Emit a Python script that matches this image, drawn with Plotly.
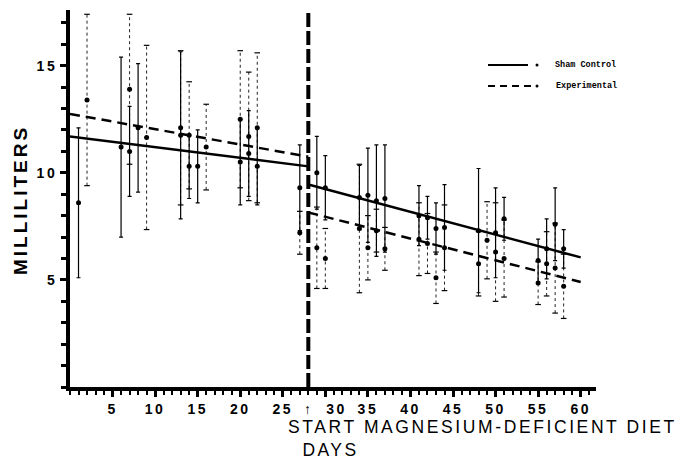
import plotly.graph_objects as go

# ---------------- data ----------------
sham_days = [1, 6, 7, 8, 13, 14, 15, 20, 21, 22, 27, 29, 30, 34, 35, 36, 37,
             41, 42, 43, 44, 48, 50, 51, 55, 56, 57, 58]
sham_mean = [8.6, 11.2, 11.0, 12.1, 11.75, 10.3, 10.3, 10.5, 10.9, 10.3, 9.3,
             10.0, 9.3, 8.85, 8.95, 8.7, 8.8, 8.0, 7.9, 7.4, 7.45, 7.3, 7.2,
             7.85, 5.9, 6.45, 7.6, 6.45]
sham_err = [3.5, 4.2, 2.1, 3.0, 3.9, 1.5, 1.7, 2.0, 2.0, 1.8, 2.0, 1.7, 1.5,
            1.5, 2.2, 2.6, 2.5, 1.4, 1.0, 1.2, 2.0, 2.9, 2.1, 1.0, 1.0, 1.4,
            1.7, 0.9]

exp_days = [2, 7, 9, 13, 14, 16, 20, 21, 22, 27, 29, 30, 34, 35, 36, 37, 41,
            42, 43, 44, 48, 49, 50, 51, 55, 56, 57, 58]
exp_mean = [13.4, 13.9, 11.65, 12.1, 11.75, 11.2, 12.5, 11.7, 12.1, 7.2, 6.5,
            6.0, 7.4, 6.5, 7.3, 6.45, 6.9, 6.7, 5.1, 6.5, 5.75, 6.85, 6.3, 6.0,
            4.85, 5.75, 5.55, 4.7]
exp_err = [4.0, 3.5, 4.3, 3.6, 2.5, 2.0, 3.2, 3.0, 3.5, 1.0, 1.9, 1.4, 3.0,
           1.5, 1.0, 1.0, 1.7, 1.4, 1.2, 2.0, 1.5, 1.8, 2.3, 1.8, 1.0, 1.5,
           2.1, 1.5]

fit_days_pre = [0, 28]
sham_fit_pre = [11.7, 10.3]
exp_fit_pre = [12.75, 10.75]
fit_days_post = [28, 60]
sham_fit_post = [9.45, 6.05]
exp_fit_post = [8.15, 4.9]

diet_start_day = 28

x_tick_vals = [5, 10, 15, 20, 25, 30, 35, 40, 45, 50, 55, 60]
x_tick_text = ["5", "10", "15", "20", "25", "\u2191&nbsp;&nbsp;30", "35", "40",
               "45", "50", "55", "60"]
y_tick_vals = [5, 10, 15]
y_tick_text = ["5", "10", "15"]

legend_names = ["Sham Control", "Experimental"]
x_title_line1 = "START MAGNESIUM-DEFICIENT DIET"
x_title_line2 = "DAYS"
y_title = "MILLILITERS"

# ---------------- figure ----------------
fig = go.Figure()

# experimental error bars (dotted) built from the data
ex_x, ex_y, cap_x, cap_y = [], [], [], []
for d, m, e in zip(exp_days, exp_mean, exp_err):
    ex_x += [d, d, None]
    ex_y += [m - e, m + e, None]
    cap_x += [d, d]
    cap_y += [m - e, m + e]
fig.add_trace(go.Scatter(x=ex_x, y=ex_y, mode="lines",
                         line=dict(color="#222222", width=1.0, dash="3px,3px"),
                         hoverinfo="skip", showlegend=False))
fig.add_trace(go.Scatter(x=cap_x, y=cap_y, mode="markers",
                         marker=dict(symbol="line-ew", size=4,
                                     line=dict(color="black", width=1.2)),
                         hoverinfo="skip", showlegend=False))

# sham control means with solid error bars
fig.add_trace(go.Scatter(x=sham_days, y=sham_mean, mode="markers",
                         name=legend_names[0],
                         marker=dict(color="black", size=5),
                         error_y=dict(type="data", array=sham_err, visible=True,
                                      color="black", thickness=1.2, width=2),
                         showlegend=False))
# experimental means
fig.add_trace(go.Scatter(x=exp_days, y=exp_mean, mode="markers",
                         name=legend_names[1],
                         marker=dict(color="black", size=5),
                         showlegend=False))

# regression lines
fig.add_trace(go.Scatter(x=fit_days_pre, y=sham_fit_pre, mode="lines",
                         line=dict(color="black", width=2.5),
                         showlegend=False, hoverinfo="skip"))
fig.add_trace(go.Scatter(x=fit_days_post, y=sham_fit_post, mode="lines",
                         line=dict(color="black", width=2.5),
                         showlegend=False, hoverinfo="skip"))
fig.add_trace(go.Scatter(x=fit_days_pre, y=exp_fit_pre, mode="lines",
                         line=dict(color="black", width=2.5, dash="10px,6px"),
                         showlegend=False, hoverinfo="skip"))
fig.add_trace(go.Scatter(x=fit_days_post, y=exp_fit_post, mode="lines",
                         line=dict(color="black", width=2.5, dash="10px,6px"),
                         showlegend=False, hoverinfo="skip"))

# vertical dashed line at diet start
fig.add_shape(type="line", x0=diet_start_day, x1=diet_start_day, xref="x",
              y0=0, y1=1, yref="paper",
              line=dict(color="black", width=4, dash="14px,4px"))

# plot geometry (pixels) for paper-coordinate placement
L, R, T, B = 70, 596, 10, 387
W, H = R - L, B - T
def px(xp):
    return (xp - L) / W
def py(yp):
    return (B - yp) / H

def spaced(s, sp):
    return '<span style="letter-spacing:%spx">%s</span>' % (sp, s)

# custom legend
leg_font = dict(family="Liberation Mono", size=8.5, color="black", weight="bold")
fig.add_shape(type="line", xref="paper", yref="paper", x0=px(488), x1=px(528),
              y0=py(65), y1=py(65), line=dict(color="black", width=2))
fig.add_shape(type="line", xref="paper", yref="paper", x0=px(488), x1=px(531),
              y0=py(86), y1=py(86), line=dict(color="black", width=2, dash="7px,5px"))
for yy in (65, 86):
    fig.add_shape(type="circle", xref="paper", yref="paper",
                  x0=px(535.5), x1=px(538.5), y0=py(yy + 1.5), y1=py(yy - 1.5),
                  fillcolor="black", line=dict(color="black", width=0))
fig.add_annotation(x=px(553), y=py(65), xref="paper", yref="paper",
                   text=legend_names[0], showarrow=False, xanchor="left",
                   yanchor="middle", font=leg_font)
fig.add_annotation(x=px(554), y=py(86), xref="paper", yref="paper",
                   text=legend_names[1], showarrow=False, xanchor="left",
                   yanchor="middle", font=leg_font)

# axis titles
title_font = dict(family="Liberation Sans", size=17.5, color="black")
fig.add_annotation(x=px(286), y=py(438), xref="paper", yref="paper",
                   text=spaced(x_title_line1, 2.6) + "<br>"
                   + spaced("&nbsp;&nbsp;" + x_title_line2, 2.4),
                   showarrow=False, xanchor="left", yanchor="middle",
                   align="left", font=title_font)
fig.add_annotation(x=px(20), y=py(200), xref="paper", yref="paper",
                   text=spaced(y_title, 3.0), showarrow=False, textangle=-90,
                   xanchor="center", yanchor="middle",
                   font=dict(family="Liberation Sans", size=19, color="black",
                             weight="bold"))

tick_font = dict(family="Liberation Sans", size=14, color="black", weight="bold")
fig.update_xaxes(range=[0, 61.8], showgrid=False, zeroline=False,
                 showline=True, linewidth=4, linecolor="black",
                 tickmode="array", tickvals=x_tick_vals,
                 ticktext=[spaced(t, 2.5) for t in x_tick_text],
                 ticks="outside", ticklen=6, tickwidth=2.5, tickcolor="black",
                 tickfont=tick_font,
                 minor=dict(dtick=1, ticks="outside", ticklen=4, tickwidth=2,
                            tickcolor="black"))
fig.update_yaxes(range=[0, 17.6], showgrid=False, zeroline=False,
                 showline=True, linewidth=4, linecolor="black",
                 tickmode="array", tickvals=y_tick_vals,
                 ticktext=[spaced(t, 2.5) for t in y_tick_text],
                 ticks="outside", ticklen=6, tickwidth=3, tickcolor="black",
                 tickfont=tick_font,
                 minor=dict(dtick=1, ticks="outside", ticklen=5, tickwidth=3,
                            tickcolor="black"))

fig.update_layout(width=682, height=460,
                  margin=dict(l=L, r=682 - R, t=T, b=460 - B),
                  plot_bgcolor="white", paper_bgcolor="white",
                  showlegend=False)

fig.write_html("out.html")
